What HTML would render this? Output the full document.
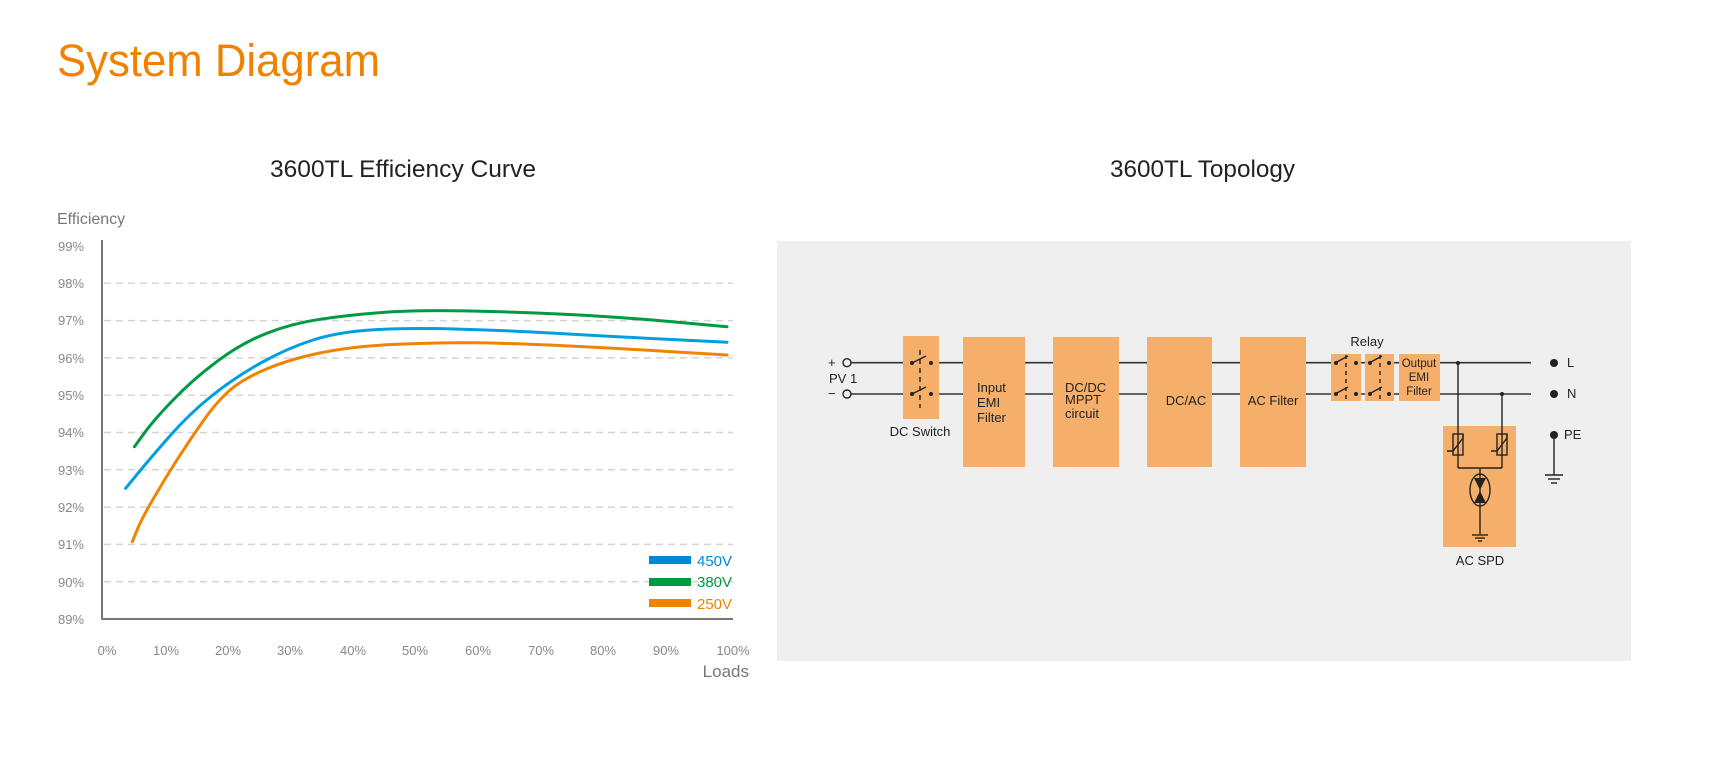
<!DOCTYPE html>
<html><head><meta charset="utf-8"><style>
html,body{margin:0;padding:0;background:#fff;}
svg{display:block;}
text{font-family:"Liberation Sans",sans-serif;}
</style></head><body>
<svg width="1711" height="777" viewBox="0 0 1711 777" xmlns="http://www.w3.org/2000/svg">
<text x="57" y="76" font-size="45" fill="#ef8200" textLength="323" lengthAdjust="spacingAndGlyphs">System Diagram</text>
<text x="270" y="177" font-size="24" fill="#222" textLength="266" lengthAdjust="spacingAndGlyphs">3600TL Efficiency Curve</text>
<text x="1110" y="177" font-size="24" fill="#222" textLength="185" lengthAdjust="spacingAndGlyphs">3600TL Topology</text>

<!-- chart -->
<text x="57" y="224" font-size="16" fill="#777">Efficiency</text>
<g stroke="#d4d4d4" stroke-width="1.5" stroke-dasharray="7,5">
<line x1="104" y1="283.3" x2="733" y2="283.3"/><line x1="104" y1="320.6" x2="733" y2="320.6"/>
<line x1="104" y1="357.9" x2="733" y2="357.9"/><line x1="104" y1="395.2" x2="733" y2="395.2"/>
<line x1="104" y1="432.5" x2="733" y2="432.5"/><line x1="104" y1="469.8" x2="733" y2="469.8"/>
<line x1="104" y1="507.1" x2="733" y2="507.1"/><line x1="104" y1="544.4" x2="733" y2="544.4"/>
<line x1="104" y1="581.7" x2="733" y2="581.7"/>
</g>
<line x1="102" y1="240" x2="102" y2="620" stroke="#777" stroke-width="2"/>
<line x1="101" y1="619" x2="733" y2="619" stroke="#777" stroke-width="2"/>
<g font-size="13" fill="#888" text-anchor="end">
<text x="84" y="251">99%</text><text x="84" y="288">98%</text><text x="84" y="325">97%</text>
<text x="84" y="363">96%</text><text x="84" y="400">95%</text><text x="84" y="437">94%</text>
<text x="84" y="475">93%</text><text x="84" y="512">92%</text><text x="84" y="549">91%</text>
<text x="84" y="587">90%</text><text x="84" y="624">89%</text>
</g>
<g font-size="13" fill="#888" text-anchor="middle">
<text x="107" y="655">0%</text><text x="166" y="655">10%</text><text x="228" y="655">20%</text>
<text x="290" y="655">30%</text><text x="353" y="655">40%</text><text x="415" y="655">50%</text>
<text x="478" y="655">60%</text><text x="541" y="655">70%</text><text x="603" y="655">80%</text>
<text x="666" y="655">90%</text><text x="733" y="655">100%</text>
</g>
<text x="749" y="677" font-size="17" fill="#777" text-anchor="end">Loads</text>
<g fill="none" stroke-width="3" stroke-linejoin="round" stroke-linecap="round">
<path stroke="#009a44" d="M134.4,446.7 L144.1,433.4 Q153.8,420 173.1,400 Q192.3,380 216.7,361.7 Q241,343.3 266.7,333.3 Q292.3,323.3 320.5,319.2 Q348.7,315 382.1,312.5 Q415.4,310 464.1,310.9 Q512.8,311.7 564.1,314.2 Q615.4,316.7 672.3,321.7 L727,326.7"/>
<path stroke="#00a0e0" d="M125.6,488.3 L137.2,474.2 Q148.7,460 169.2,436.7 Q189.7,413.3 212.8,395 Q235.9,376.7 261.6,362.5 Q287.2,348.3 312.9,340 Q338.5,331.7 374.4,329.7 Q410.3,327.7 461.6,329.2 Q512.8,330.7 564.1,333.7 Q615.4,336.7 672.3,339.5 L727,342.3"/>
<path stroke="#f08300" d="M132.3,541.7 L136.7,530.9 Q141,520 152.6,500 Q164.1,480 176.9,460 Q189.7,440 202.6,421.7 Q215.4,403.3 228.2,391.7 Q241,380 264.1,370 Q287.2,360 318,353.4 Q348.7,346.7 392.3,344.5 Q435.9,342.3 474.4,342.8 Q512.8,343.3 564.1,345.8 Q615.4,348.3 672.3,351.7 L727,355"/>
</g>
<rect x="649" y="556" width="42" height="8" fill="#0088d8"/>
<rect x="649" y="578" width="42" height="8" fill="#009a44"/>
<rect x="649" y="599" width="42" height="8" fill="#f08300"/>
<g font-size="15">
<text x="697" y="566" fill="#0088d8">450V</text>
<text x="697" y="587" fill="#009a44">380V</text>
<text x="697" y="609" fill="#f08300">250V</text>
</g>

<!-- topology -->
<rect x="777" y="241" width="854" height="420" fill="#efefef"/>
<g stroke="#333" stroke-width="1.6" fill="none">
<line x1="851" y1="362.7" x2="1531" y2="362.7"/>
<line x1="851" y1="394" x2="1531" y2="394"/>
</g>
<g fill="#f6ae6b">
<rect x="903" y="336" width="36" height="83"/>
<rect x="963" y="337" width="62" height="130"/>
<rect x="1053" y="337" width="66" height="130"/>
<rect x="1147" y="337" width="65" height="130"/>
<rect x="1240" y="337" width="66" height="130"/>
<rect x="1331" y="354" width="30" height="47"/>
<rect x="1365" y="354" width="29" height="47"/>
<rect x="1399" y="354" width="41" height="47"/>
<rect x="1443" y="426" width="73" height="121"/>
</g>
<g fill="#f6ae6b"><rect x="911" y="358" width="22" height="9"/><rect x="911" y="389" width="22" height="9"/>
<rect x="1334" y="358" width="24" height="9"/><rect x="1368" y="358" width="24" height="9"/>
<rect x="1334" y="389" width="24" height="9"/><rect x="1368" y="389" width="24" height="9"/></g>
<g stroke="#222" stroke-width="1.4" fill="none">
<line x1="912" y1="363" x2="926" y2="356"/><line x1="912" y1="394" x2="926" y2="387"/>
<line x1="920" y1="350" x2="920" y2="408" stroke-dasharray="5,4"/>
<line x1="1335" y1="363" x2="1348" y2="356"/><line x1="1335" y1="394" x2="1348" y2="387"/>
<line x1="1369" y1="363" x2="1382" y2="356"/><line x1="1369" y1="394" x2="1382" y2="387"/>
<line x1="1346" y1="355" x2="1346" y2="400" stroke-dasharray="4,4"/>
<line x1="1380" y1="355" x2="1380" y2="400" stroke-dasharray="4,4"/>
<line x1="1458" y1="363" x2="1458" y2="468"/><line x1="1502" y1="394" x2="1502" y2="468"/>
<line x1="1458" y1="468" x2="1502" y2="468"/>
<rect x="1453" y="434" width="10" height="21"/><rect x="1497" y="434" width="10" height="21"/>
<polyline points="1447,451 1453,451 1463,438 1463,434"/><polyline points="1491,451 1497,451 1507,438 1507,434"/>
<line x1="1480" y1="468" x2="1480" y2="534"/>
<ellipse cx="1480" cy="490" rx="10" ry="16"/>
<line x1="1472" y1="535" x2="1488" y2="535"/><line x1="1475" y1="538" x2="1485" y2="538"/><line x1="1478" y1="541" x2="1482" y2="541"/>
<line x1="1554" y1="435" x2="1554" y2="475"/>
<line x1="1545" y1="475" x2="1563" y2="475"/><line x1="1548" y1="479" x2="1560" y2="479"/><line x1="1551" y1="483" x2="1557" y2="483"/>
<circle cx="847" cy="362.7" r="4" fill="#efefef"/><circle cx="847" cy="394" r="4" fill="#efefef"/>
</g>
<g fill="#222">
<polygon points="1474,478 1486,478 1480,490"/><polygon points="1474,503 1486,503 1480,491"/>
<circle cx="912" cy="363" r="2"/><circle cx="931" cy="363" r="2"/><circle cx="912" cy="394" r="2"/><circle cx="931" cy="394" r="2"/>
<circle cx="1336" cy="363" r="2"/><circle cx="1356" cy="363" r="2"/><circle cx="1370" cy="363" r="2"/><circle cx="1389" cy="363" r="2"/>
<circle cx="1336" cy="394" r="2"/><circle cx="1356" cy="394" r="2"/><circle cx="1370" cy="394" r="2"/><circle cx="1389" cy="394" r="2"/>
<circle cx="1458" cy="363" r="2"/><circle cx="1502" cy="394" r="2"/>
<circle cx="1554" cy="363" r="4"/><circle cx="1554" cy="394" r="4"/><circle cx="1554" cy="435" r="4"/>
</g>
<g font-size="13" fill="#222">
<text x="828" y="367">+</text><text x="829" y="383">PV 1</text><text x="828" y="398">−</text>
<text x="920" y="436" text-anchor="middle">DC Switch</text>
<text x="977" y="392">Input</text><text x="977" y="407">EMI</text><text x="977" y="422">Filter</text>
<text x="1065" y="392">DC/DC</text><text x="1065" y="404">MPPT</text><text x="1065" y="418">circuit</text>
<text x="1186" y="405" text-anchor="middle">DC/AC</text>
<text x="1273" y="405" text-anchor="middle">AC Filter</text>
<text x="1367" y="346" text-anchor="middle">Relay</text>
<text x="1419" y="367" text-anchor="middle" font-size="11.5">Output</text>
<text x="1419" y="381" text-anchor="middle" font-size="11.5">EMI</text>
<text x="1419" y="395" text-anchor="middle" font-size="11.5">Filter</text>
<text x="1567" y="367">L</text><text x="1567" y="398">N</text><text x="1564" y="439">PE</text>
<text x="1480" y="565" text-anchor="middle">AC SPD</text>
</g>
</svg>
</body></html>
